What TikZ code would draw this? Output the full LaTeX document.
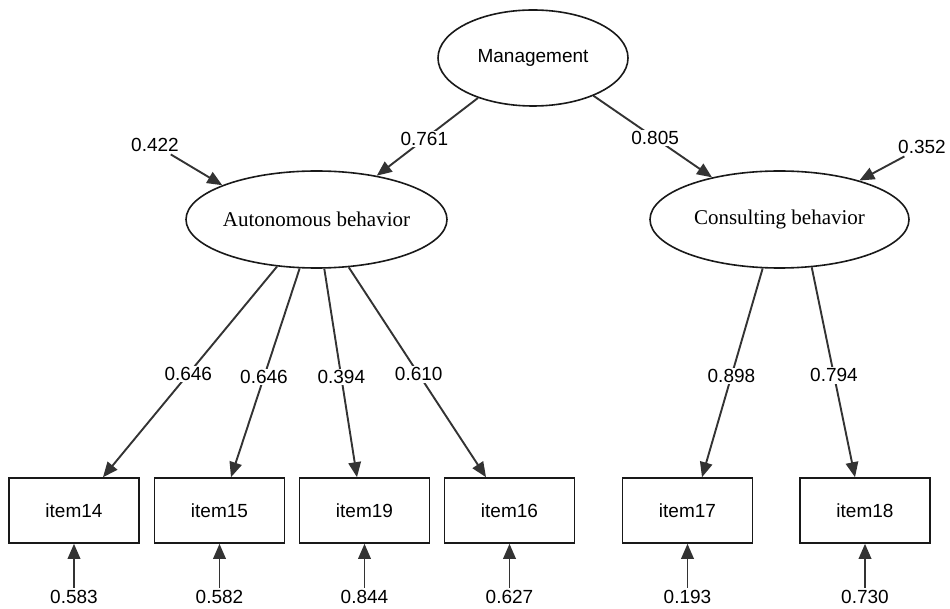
\documentclass[tikz,border=0pt]{standalone}
\usepackage{fontspec}
\setmainfont{Liberation Serif}
\setsansfont{Liberation Sans}
\usetikzlibrary{arrows.meta,shapes.geometric}
\begin{document}
\begin{tikzpicture}[x=1pt,y=-1pt,
  latent/.style={draw=black!90, line width=1.6pt, ellipse, inner xsep=-12pt, inner ysep=0pt, font=\fontsize{21}{24}\selectfont},
  obs/.style={draw=black!90, line width=1.6pt, rectangle, minimum width=130pt, minimum height=65pt, inner sep=0pt, font=\sffamily\fontsize{19}{22}\selectfont},
  lab/.style={font=\sffamily\fontsize{19}{22}\selectfont, inner sep=2.5pt},
  onlab/.style={lab, fill=white, inner sep=1.5pt},
  arr/.style={draw=black!80, line width=1.9pt, -{Triangle[length=15pt,width=12.5pt]}}
]
\useasboundingbox (0,0) rectangle (950,609);

% latent variables
\node[latent, font=\sffamily\fontsize{19}{22}\selectfont, minimum width=190pt, minimum height=96pt] (mg) at (533,58) {Management};
\node[latent, minimum width=261pt, minimum height=97pt] (aut) at (316.5,219.5) {Autonomous behavior};
\node[latent, minimum width=259pt, minimum height=97pt] (con) at (779.5,219.5) {Consulting behavior};

% observed variables
\node[obs] (b14) at (74,510.5) {item14};
\node[obs] (b15) at (219.5,510.5) {item15};
\node[obs] (b19) at (364.5,510.5) {item19};
\node[obs] (b16) at (509.5,510.5) {item16};
\node[obs] (b17) at (687.5,510.5) {item17};
\node[obs] (b18) at (865,510.5) {item18};

% residual labels
\node[lab] (r1) at (155,145) {0.422};
\node[lab] (r2) at (922,147) {0.352};
\node[lab] (e14) at (74,597) {0.583};
\node[lab] (e15) at (219.5,597) {0.582};
\node[lab] (e19) at (364.5,597) {0.844};
\node[lab] (e16) at (509.5,597) {0.627};
\node[lab] (e17) at (687.5,597) {0.193};
\node[lab] (e18) at (865,597) {0.730};

% structural paths
\draw[arr] (mg.216) -- node[onlab,pos=0.53]{0.761} (aut.36);
\draw[arr] (mg.328) -- node[onlab,pos=0.52]{0.805} (con.148);

% loadings
\draw[arr] (aut.230) -- node[onlab,pos=0.51]{0.646} ([xshift=29pt]b14.north);
\draw[arr] (aut.251) -- node[onlab,pos=0.52]{0.646} ([xshift=11.5pt]b15.north);
\draw[arr] (aut.279) -- node[onlab,pos=0.52]{0.394} ([xshift=-7.5pt]b19.north);
\draw[arr] (aut.304) -- node[onlab,pos=0.51]{0.610} ([xshift=-23.5pt]b16.north);
\draw[arr] (con.251) -- node[onlab,pos=0.515]{0.898} ([xshift=14.5pt]b17.north);
\draw[arr] (con.304) -- node[onlab,pos=0.515]{0.794} ([xshift=-10pt]b18.north);

% residual arrows
\draw[arr] (r1) -- (aut.160);
\draw[arr] (r2) -- (con.26);
\draw[arr] (e14) -- (b14.south);
\draw[arr] (e15) -- (b15.south);
\draw[arr] (e19) -- (b19.south);
\draw[arr] (e16) -- (b16.south);
\draw[arr] (e17) -- (b17.south);
\draw[arr] (e18) -- (b18.south);
\end{tikzpicture}
\end{document}
